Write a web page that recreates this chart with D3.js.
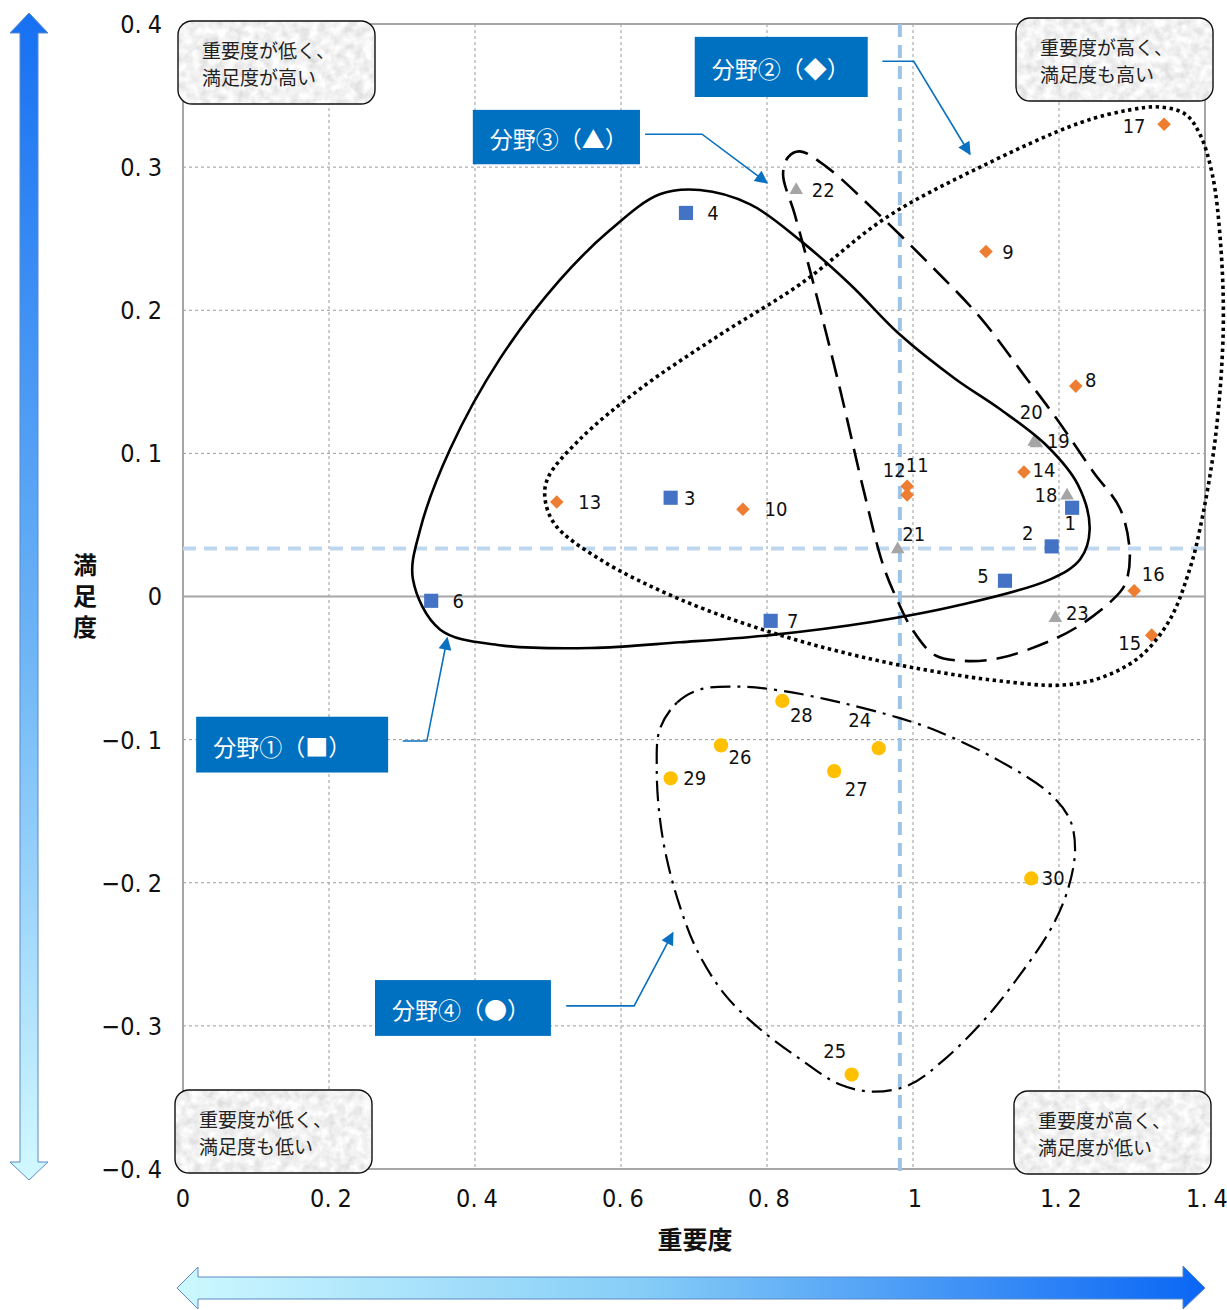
<!DOCTYPE html>
<html><head><meta charset="utf-8">
<script src="https://cdn.jsdelivr.net/npm/d3@7"></script>
<style>
html,body{margin:0;padding:0;background:#fff;}
svg{display:block;}
</style>
</head><body>
<script>
// ---------------- data ----------------
const xTicks = [0, 0.2, 0.4, 0.6, 0.8, 1, 1.2, 1.4];
const yTicks = [-0.4, -0.3, -0.2, -0.1, 0, 0.1, 0.2, 0.3, 0.4];
const xTitle = "重要度";
const yTitle = "満足度";

const field1Ids = [1, 2, 3, 4, 5, 6, 7];
const field1X = [1.218, 1.190, 0.668, 0.689, 1.126, 0.340, 0.805];
const field1Y = [0.062, 0.035, 0.069, 0.268, 0.011, -0.003, -0.017];

const field2Ids = [8, 9, 10, 11, 12, 13, 14, 15, 16, 17];
const field2X = [1.223, 1.100, 0.767, 0.992, 0.992, 0.512, 1.152, 1.327, 1.303, 1.344];
const field2Y = [0.147, 0.241, 0.061, 0.077, 0.071, 0.066, 0.087, -0.027, 0.004, 0.330];

const field3Ids = [18, 19, 20, 21, 22, 23];
const field3X = [1.211, 1.169, 1.166, 0.979, 0.840, 1.195];
const field3Y = [0.0705, 0.107, 0.108, 0.033, 0.284, -0.015];

const field4Ids = [24, 25, 26, 27, 28, 29, 30];
const field4X = [0.953, 0.916, 0.737, 0.892, 0.821, 0.668, 1.162];
const field4Y = [-0.106, -0.334, -0.104, -0.122, -0.073, -0.127, -0.197];

const meanX = 0.982;
const meanY = 0.0335;

const fieldNames = ["分野①（■）", "分野②（◆）", "分野③（▲）", "分野④（●）"];
const cornerTexts = [
  ["重要度が低く、", "満足度が高い"],
  ["重要度が高く、", "満足度も高い"],
  ["重要度が低く、", "満足度も低い"],
  ["重要度が高く、", "満足度が低い"]
];

// label placement (pixel offsets from the marker)
const labelOffset = {
  1:[-2,15], 2:[-24,-13], 3:[19,0], 4:[27,0], 5:[-22,-5], 6:[27,0], 7:[22,0],
  8:[15,-6], 9:[22,0], 10:[33,0], 11:[10,-21], 12:[-13,-25], 13:[33,0], 14:[20,-2],
  15:[-22,8], 16:[19,-17], 17:[-30,2], 18:[-21,-1], 19:[22,-2], 20:[-3,-30],
  21:[16,-15], 22:[27,0], 23:[22,-5], 24:[-19,-28], 25:[-17,-24], 26:[19,12],
  27:[22,18], 28:[19,14], 29:[24,0], 30:[22,0]
};

// enclosure outlines (data units)
const hull1 = [[0.315,0.012],[0.325,0.047],[0.366,0.103],[0.434,0.166],[0.516,0.221],[0.585,0.256],[0.653,0.281],[0.708,0.284],[0.777,0.274],[0.845,0.249],[0.914,0.218],[0.982,0.183],[1.058,0.152],[1.119,0.131],[1.184,0.105],[1.226,0.078],[1.242,0.047],[1.229,0.026],[1.188,0.012],[1.064,-0.006],[0.941,-0.018],[0.804,-0.027],[0.681,-0.032],[0.558,-0.036],[0.434,-0.034],[0.352,-0.023]];
const hull2 = [[0.500,0.083],[0.544,0.110],[0.626,0.145],[0.736,0.183],[0.845,0.218],[0.964,0.265],[1.092,0.300],[1.229,0.331],[1.297,0.340],[1.338,0.342],[1.373,0.337],[1.393,0.323],[1.410,0.295],[1.421,0.249],[1.425,0.187],[1.414,0.110],[1.393,0.047],[1.379,0.019],[1.352,-0.016],[1.311,-0.042],[1.256,-0.057],[1.201,-0.062],[1.119,-0.059],[1.037,-0.053],[0.945,-0.044],[0.818,-0.027],[0.681,-0.002],[0.571,0.026],[0.510,0.050],[0.496,0.068]];
const hull3 = [[0.822,0.295],[0.829,0.307],[0.845,0.311],[0.882,0.300],[0.951,0.268],[1.023,0.232],[1.092,0.195],[1.156,0.152],[1.197,0.124],[1.247,0.087],[1.284,0.061],[1.297,0.029],[1.290,0.008],[1.270,-0.004],[1.229,-0.020],[1.188,-0.031],[1.119,-0.043],[1.071,-0.045],[1.030,-0.041],[0.999,-0.023],[0.978,-0.002],[0.959,0.022],[0.932,0.075],[0.900,0.145],[0.866,0.214],[0.838,0.267]];
const hull4 = [[0.653,-0.093],[0.677,-0.074],[0.708,-0.065],[0.763,-0.063],[0.822,-0.066],[0.900,-0.074],[0.982,-0.085],[1.033,-0.094],[1.119,-0.115],[1.188,-0.138],[1.215,-0.156],[1.222,-0.177],[1.212,-0.205],[1.188,-0.233],[1.147,-0.264],[1.099,-0.295],[1.044,-0.323],[0.996,-0.341],[0.948,-0.346],[0.900,-0.341],[0.845,-0.323],[0.790,-0.302],[0.742,-0.278],[0.704,-0.247],[0.681,-0.217],[0.663,-0.184],[0.653,-0.154],[0.649,-0.121]];

// callouts (data units): box [x0,y0,x1,y1], leader path
const callBox = [[0.018,-0.084,0.281,-0.123],[0.701,0.391,0.938,0.349],[0.397,0.340,0.626,0.302],[0.263,-0.268,0.504,-0.307]];
const callPath = [
  [[0.301,-0.101],[0.334,-0.101],[0.362,-0.029]],
  [[0.958,0.374],[1.001,0.374],[1.078,0.309]],
  [[0.633,0.323],[0.711,0.323],[0.800,0.289]],
  [[0.525,-0.286],[0.618,-0.286],[0.671,-0.235]]
];

// ---------------- drawing ----------------
const W = 1227, H = 1310;
const x = d3.scaleLinear().domain([0, 1.4]).range([183, 1205]);
const y = d3.scaleLinear().domain([-0.4, 0.4]).range([1169, 24]);

const svg = d3.select("body").append("svg").attr("width", W).attr("height", H);
const defs = svg.append("defs");

// gradients for the big arrows
const gv = defs.append("linearGradient").attr("id","gv").attr("x1",0).attr("y1",0).attr("x2",0).attr("y2",1);
gv.append("stop").attr("offset","0%").attr("stop-color","#1670f2");
gv.append("stop").attr("offset","55%").attr("stop-color","#6fb6f6");
gv.append("stop").attr("offset","100%").attr("stop-color","#d2f9ff");
const gh = defs.append("linearGradient").attr("id","gh").attr("x1",0).attr("y1",0).attr("x2",1).attr("y2",0);
gh.append("stop").attr("offset","0%").attr("stop-color","#cdf8ff");
gh.append("stop").attr("offset","45%").attr("stop-color","#86cdf7");
gh.append("stop").attr("offset","100%").attr("stop-color","#0a66f5");

// paper texture filter
const f = defs.append("filter").attr("id","paper").attr("x",0).attr("y",0).attr("width",1).attr("height",1);
f.append("feTurbulence").attr("type","fractalNoise").attr("baseFrequency","0.11").attr("numOctaves",4).attr("seed",5).attr("result","n");
f.append("feColorMatrix").attr("in","n").attr("type","matrix")
  .attr("values","0.45 0 0 0 0.66  0.45 0 0 0 0.66  0.45 0 0 0 0.66  0 0 0 0 1");

// arrow marker for leaders
defs.append("marker").attr("id","ah").attr("viewBox","0 0 10 10").attr("refX",9).attr("refY",5)
  .attr("markerWidth",17).attr("markerHeight",13).attr("markerUnits","userSpaceOnUse").attr("orient","auto")
  .append("path").attr("d","M0,0 L10,5 L0,10 Z").attr("fill","#0a70c0");

// ---- grid ----
const grid = svg.append("g");
grid.selectAll("line.gx").data(xTicks.filter(t => t > 0 && t < 1.4)).join("line")
  .attr("x1", d => x(d)).attr("x2", d => x(d)).attr("y1", y(0.4)).attr("y2", y(-0.4))
  .attr("stroke","#9a9a9a").attr("stroke-width",1).attr("stroke-dasharray","3,3");
grid.selectAll("line.gy").data(yTicks.filter(t => t > -0.4 && t < 0.4 && t !== 0)).join("line")
  .attr("x1", x(0)).attr("x2", x(1.4)).attr("y1", d => y(d)).attr("y2", d => y(d))
  .attr("stroke","#9a9a9a").attr("stroke-width",1).attr("stroke-dasharray","3,3");
grid.append("line").attr("x1", x(0)).attr("x2", x(1.4)).attr("y1", y(0)).attr("y2", y(0))
  .attr("stroke","#a6a6a6").attr("stroke-width",2);
grid.append("rect").attr("x", x(0)).attr("y", y(0.4)).attr("width", x(1.4)-x(0)).attr("height", y(-0.4)-y(0.4))
  .attr("fill","none").attr("stroke","#a6a6a6").attr("stroke-width",2);

// ---- tick labels ----
const tickFont = "'Liberation Sans Narrow','DejaVu Sans Condensed','Noto Sans CJK JP',sans-serif";
const fmt = d => d === 0 ? "0" : d3.format("~g")(d).replace("-", "−");
function tickText(sel) {
  sel.each(function(d) {
    const s = fmt(d), t = d3.select(this);
    const k = s.indexOf(".");
    if (k < 0) { t.text(s); return; }
    t.append("tspan").text(s.slice(0, k + 1));
    t.append("tspan").attr("dx", 6).text(s.slice(k + 1));
  });
}
svg.append("g").selectAll("text").data(xTicks).join("text")
  .attr("x", d => x(d) + (d === 0 ? 0 : 2)).attr("y", 1198)
  .attr("text-anchor","middle").attr("dominant-baseline","central")
  .attr("font-family", tickFont).attr("font-size",25).attr("fill","#111")
  .call(tickText);
svg.append("g").selectAll("text").data(yTicks).join("text")
  .attr("x", 162).attr("y", d => y(d))
  .attr("text-anchor","end").attr("dominant-baseline","central")
  .attr("font-family", tickFont).attr("font-size",25).attr("fill","#111")
  .call(tickText);

// ---- axis titles ----
svg.append("text").attr("x", 695).attr("y", 1238).attr("text-anchor","middle").attr("dominant-baseline","central")
  .attr("font-family","'Noto Sans CJK JP',sans-serif").attr("font-weight","bold").attr("font-size",25).attr("fill","#111")
  .text(xTitle);
svg.append("text").attr("x", 85).attr("y", 599)
  .attr("writing-mode","vertical-rl").attr("text-anchor","middle")
  .style("writing-mode","vertical-rl").style("text-orientation","upright")
  .attr("letter-spacing","7px")
  .attr("font-family","'Noto Sans CJK JP',sans-serif").attr("font-weight","bold").attr("font-size",24).attr("fill","#111")
  .text(yTitle);

// ---- reference (mean) lines ----
svg.append("line").attr("x1", x(meanX)).attr("x2", x(meanX)).attr("y1", y(0.4)).attr("y2", y(-0.4)+3)
  .attr("stroke","#9dc3e6").attr("stroke-width",4).attr("stroke-dasharray","13,8");
svg.append("line").attr("x1", x(0)).attr("x2", x(1.4)).attr("y1", y(meanY)).attr("y2", y(meanY))
  .attr("stroke","#bdd7ee").attr("stroke-width",4).attr("stroke-dasharray","13,8");

// ---- points ----
const fields = [
  {ids: field1Ids, xs: field1X, ys: field1Y, color: "#4472c4", shape: "square"},
  {ids: field2Ids, xs: field2X, ys: field2Y, color: "#ed7d31", shape: "diamond"},
  {ids: field3Ids, xs: field3X, ys: field3Y, color: "#a5a5a5", shape: "triangle"},
  {ids: field4Ids, xs: field4X, ys: field4Y, color: "#ffc000", shape: "circle"}
];
const symPath = {
  square: d3.symbol(d3.symbolSquare, 200)(),
  diamond: d3.symbol(d3.symbolSquare, 92)(),
  triangle: d3.symbol(d3.symbolTriangle, 80)(),
  circle: d3.symbol(d3.symbolCircle, 160)()
};
const pts = svg.append("g");
const labs = svg.append("g");
fields.forEach(fd => {
  const rows = fd.ids.map((id, i) => ({id, vx: fd.xs[i], vy: fd.ys[i]}));
  pts.selectAll(null).data(rows).join("path")
    .attr("d", symPath[fd.shape])
    .attr("transform", d => `translate(${x(d.vx)},${y(d.vy)})` + (fd.shape === "diamond" ? " rotate(45)" : ""))
    .attr("fill", fd.color);
  labs.selectAll(null).data(rows).join("text")
    .attr("x", d => x(d.vx) + labelOffset[d.id][0])
    .attr("y", d => y(d.vy) + labelOffset[d.id][1])
    .attr("text-anchor","middle").attr("dominant-baseline","central")
    .attr("font-family", tickFont).attr("font-size",20).attr("fill","#111")
    .text(d => d.id);
});

// ---- enclosures ----
const hullLine = d3.line().x(d => x(d[0])).y(d => y(d[1])).curve(d3.curveCatmullRomClosed.alpha(0.5));
const hulls = [
  {pts: hull1, dash: null, w: 2.6},
  {pts: hull2, dash: "3.4,3.6", w: 3.6},
  {pts: hull3, dash: "22,10", w: 2.6},
  {pts: hull4, dash: "20,7,3,7", w: 2.2}
];
svg.append("g").selectAll("path").data(hulls).join("path")
  .attr("d", d => hullLine(d.pts)).attr("fill","none").attr("stroke","#000")
  .attr("stroke-width", d => d.w).attr("stroke-dasharray", d => d.dash);

// ---- callouts ----
const cg = svg.append("g");
callBox.forEach((b, i) => {
  const bx = x(b[0]), by = y(b[1]), bw = x(b[2]) - x(b[0]), bh = y(b[3]) - y(b[1]);
  cg.append("rect").attr("x", bx).attr("y", by).attr("width", bw).attr("height", bh).attr("fill","#0070c0");
  cg.append("text").attr("x", bx + 17).attr("y", by + bh/2 + 1).attr("dominant-baseline","central")
    .attr("font-family","'Noto Sans CJK JP',sans-serif").attr("font-size",23).attr("fill","#fff")
    .text(fieldNames[i]);
  cg.append("path").attr("d", d3.line().x(d => x(d[0])).y(d => y(d[1]))(callPath[i]))
    .attr("fill","none").attr("stroke","#0a70c0").attr("stroke-width",1.6).attr("marker-end","url(#ah)");
});

// ---- corner boxes ----
const corners = [
  {x0: x(0) - 5, y0: y(0.4) - 3},
  {x0: x(1.4) - 189, y0: y(0.4) - 6},
  {x0: x(0) - 8, y0: y(-0.4) - 79},
  {x0: x(1.4) - 191, y0: y(-0.4) - 78}
];
const cw = 197, ch = 83;
corners.forEach((c, i) => {
  const cid = "cc" + i;
  defs.append("clipPath").attr("id", cid).append("rect")
    .attr("x", c.x0).attr("y", c.y0).attr("width", cw).attr("height", ch).attr("rx", 14);
  const g = svg.append("g");
  g.append("rect").attr("x", c.x0).attr("y", c.y0).attr("width", cw).attr("height", ch)
    .attr("clip-path", `url(#${cid})`).attr("filter","url(#paper)").attr("fill","#ddd");
  g.append("rect").attr("x", c.x0).attr("y", c.y0).attr("width", cw).attr("height", ch).attr("rx", 14)
    .attr("fill","none").attr("stroke","#111").attr("stroke-width",1.4);
  cornerTexts[i].forEach((t, j) => {
    g.append("text").attr("x", c.x0 + 24).attr("y", c.y0 + 28 + j*27).attr("dominant-baseline","central")
      .attr("font-family","'Noto Sans CJK JP',sans-serif").attr("font-size",19).attr("fill","#222")
      .text(t);
  });
});

// ---- big arrows ----
const vArrow = [[29,13],[48,33],[38,33],[38,1162],[48,1162],[29,1180],[10,1162],[20,1162],[20,33],[10,33]];
svg.append("path").attr("d", "M" + vArrow.map(p => p.join(",")).join("L") + "Z")
  .attr("fill","url(#gv)").attr("stroke","#5a8ac6").attr("stroke-width",1);
const hArrow = [[177,1288],[198,1267],[198,1277],[1183,1277],[1183,1266],[1205,1288],[1183,1309],[1183,1299],[198,1299],[198,1309]];
svg.append("path").attr("d", "M" + hArrow.map(p => p.join(",")).join("L") + "Z")
  .attr("fill","url(#gh)").attr("stroke","#5a8ac6").attr("stroke-width",1);
</script>
</body></html>
